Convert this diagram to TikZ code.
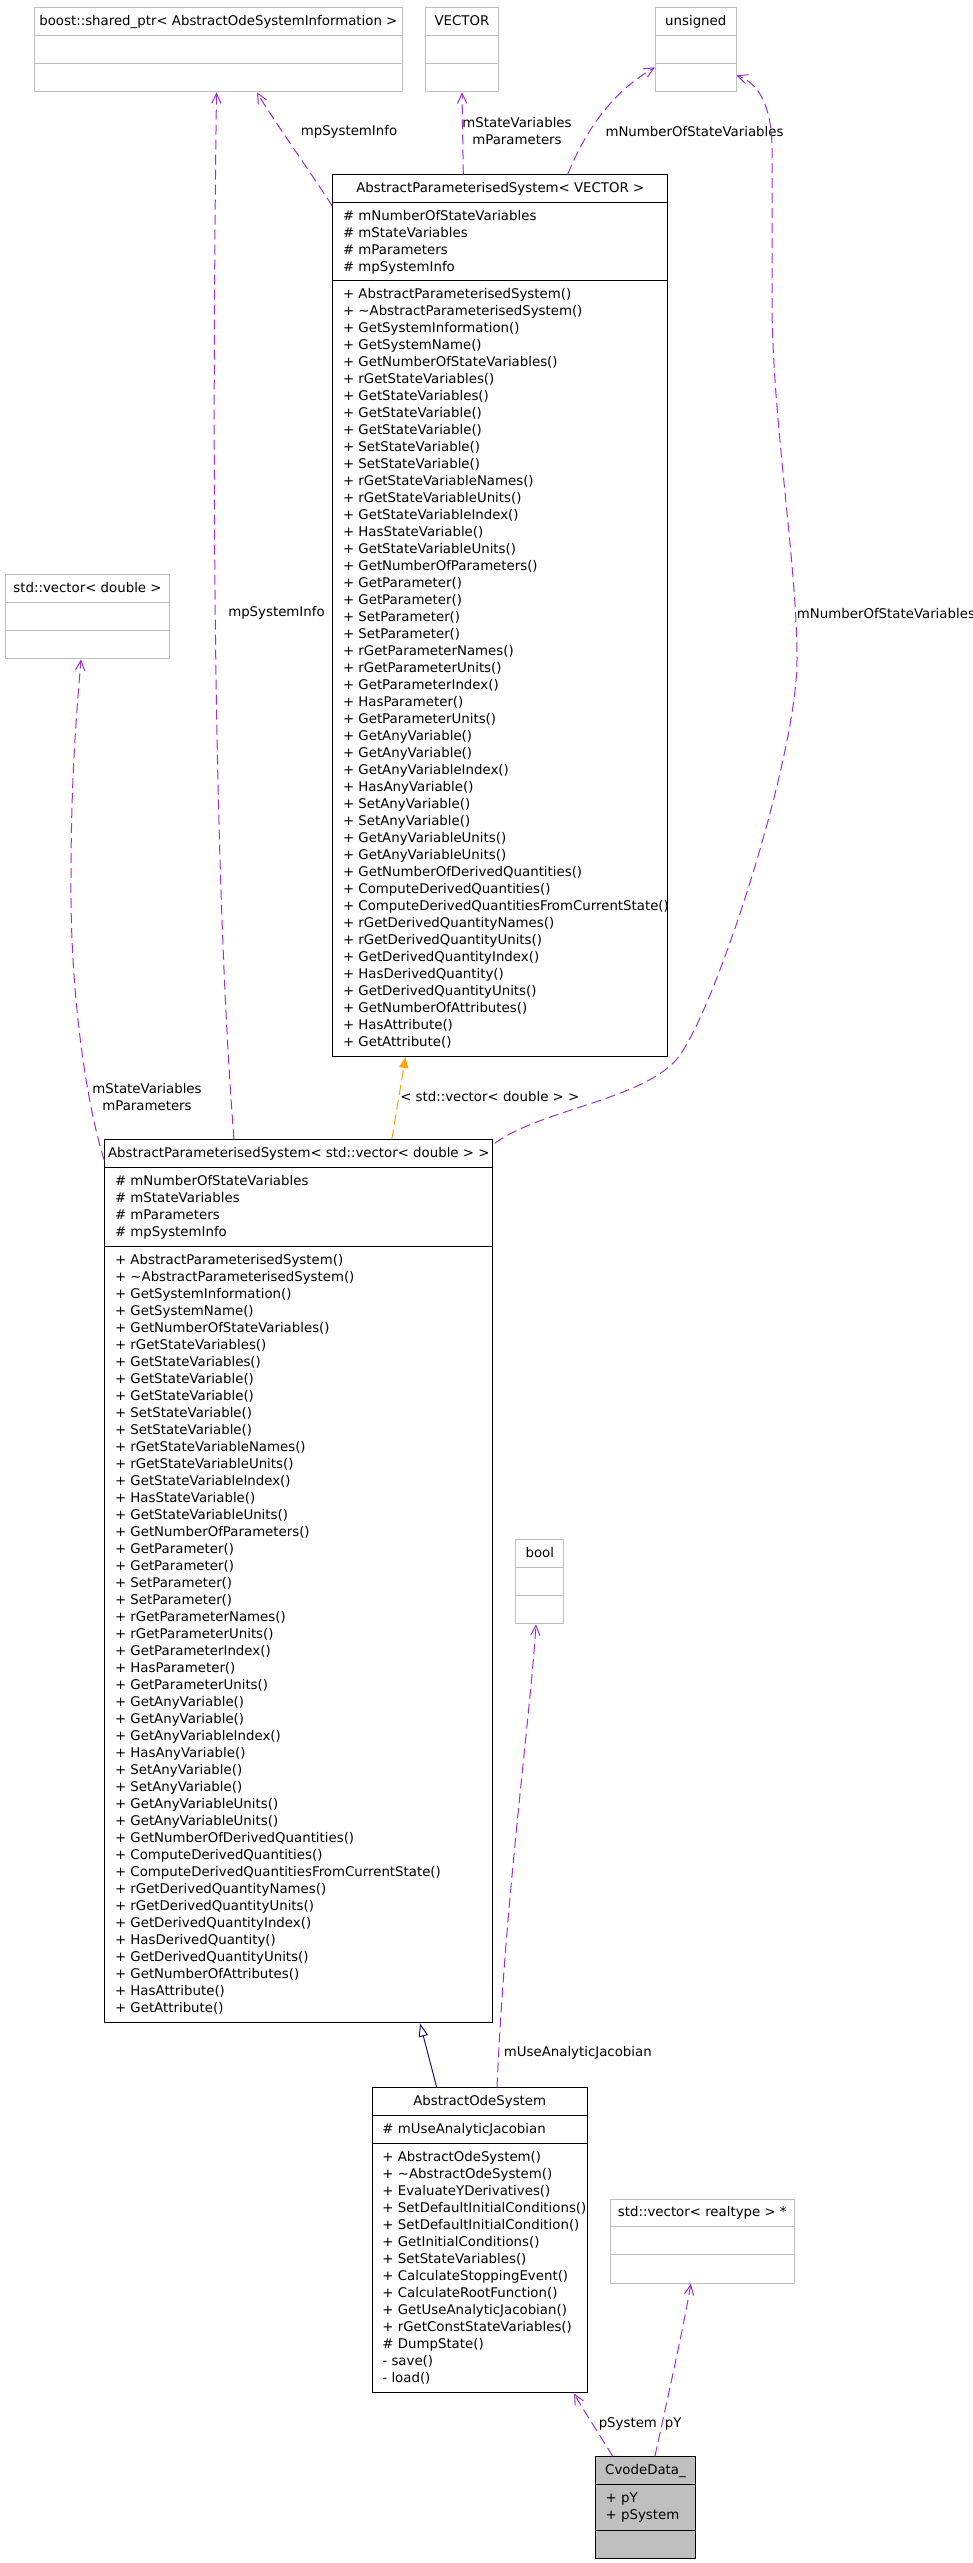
\documentclass[tikz,border=0pt]{standalone}
\usepackage{fontspec}
\setmainfont{DejaVu Sans}
\usetikzlibrary{calc,arrows.meta}
\definecolor{purp}{HTML}{9A32CD}
\definecolor{greyline}{HTML}{BFBFBF}
\definecolor{navyblue}{HTML}{191970}
\definecolor{orng}{HTML}{FFA500}
\tikzset{
  cls/.style={draw=black, line width=0.75pt, fill=white, inner sep=0pt, anchor=north west},
  ext/.style={cls, draw=greyline},
  mem/.style={anchor=base west, inner sep=0pt, font=\fontsize{10}{12.75}\selectfont},
  lbl/.style={inner sep=0pt, font=\fontsize{10}{12.75}\selectfont},
  usage/.style={draw=purp, line width=0.75pt, dash pattern=on 7.5pt off 3.75pt, -{Straight Barb[length=7.5pt,width=7pt]}},
  tmpl/.style={draw=orng, line width=0.75pt, dash pattern=on 7.5pt off 3.75pt, -{Triangle[length=8pt,width=7pt,fill=orng]}},
  inh/.style={draw=navyblue, line width=0.75pt, -{Triangle[open,length=10pt,width=7pt]}},
}
\newcommand\memlist[3]{%
  \foreach \mt [count=\mi from 0] in {#3}{%
    \node[mem] (#1-#2-\mi) at ($(#1.north west)+(10.5,#2+18+17*\mi)$) {\mt};}}
\newcommand\hsep[3]{\draw[line width=0.75pt,#3] ($(#1.north west)+(0,#2)$) -- ($(#1.north east)+(0,#2)$);}
\newcommand\clstitle[2]{\node[mem,anchor=base] (#1-t) at ($(#1.north)+(0,18)$) {#2};}
\begin{document}
\begin{tikzpicture}[x=0.75pt,y=-0.75pt]
\useasboundingbox (0,0) rectangle (973,2563);

% ---- external boxes ----
\node[ext, minimum width=276.2pt, minimum height=63pt] (boost) at (33.7,7.3) {};
\hsep{boost}{28}{greyline}\hsep{boost}{56}{greyline}
\clstitle{boost}{boost::shared\_ptr< AbstractOdeSystemInformation >}

\node[ext, minimum width=54.75pt, minimum height=63pt] (vector) at (425,7.3) {};
\hsep{vector}{28}{greyline}\hsep{vector}{56}{greyline}
\clstitle{vector}{VECTOR}

\node[ext, minimum width=60.4pt, minimum height=63pt] (unsigned) at (655,7.3) {};
\hsep{unsigned}{28}{greyline}\hsep{unsigned}{56}{greyline}
\clstitle{unsigned}{unsigned}

\node[ext, minimum width=122.55pt, minimum height=63pt] (svd) at (5.3,574.3) {};
\hsep{svd}{28}{greyline}\hsep{svd}{56}{greyline}
\clstitle{svd}{std::vector< double >}

\node[ext, minimum width=36pt, minimum height=63pt] (bool) at (515.3,1539.3) {};
\hsep{bool}{28}{greyline}\hsep{bool}{56}{greyline}
\clstitle{bool}{bool}

\node[ext, minimum width=137.85pt, minimum height=63pt] (rt) at (609.9,2198.7) {};
\hsep{rt}{28}{greyline}\hsep{rt}{56}{greyline}
\clstitle{rt}{std::vector< realtype > *}

% ---- AbstractParameterisedSystem< VECTOR > ----
\node[cls, minimum width=251.25pt, minimum height=661.5pt] (apsv) at (332.3,174.3) {};
\hsep{apsv}{28}{black}\hsep{apsv}{106}{black}
\clstitle{apsv}{AbstractParameterisedSystem< VECTOR >}
\memlist{apsv}{28}{\# mNumberOfStateVariables,\# mStateVariables,\# mParameters,\# mpSystemInfo}
\memlist{apsv}{106}{+ AbstractParameterisedSystem(),+ \textasciitilde AbstractParameterisedSystem(),+ GetSystemInformation(),+ GetSystemName(),+ GetNumberOfStateVariables(),+ rGetStateVariables(),+ GetStateVariables(),+ GetStateVariable(),+ GetStateVariable(),+ SetStateVariable(),+ SetStateVariable(),+ rGetStateVariableNames(),+ rGetStateVariableUnits(),+ GetStateVariableIndex(),+ HasStateVariable(),+ GetStateVariableUnits(),+ GetNumberOfParameters(),+ GetParameter(),+ GetParameter(),+ SetParameter(),+ SetParameter(),+ rGetParameterNames(),+ rGetParameterUnits(),+ GetParameterIndex(),+ HasParameter(),+ GetParameterUnits(),+ GetAnyVariable(),+ GetAnyVariable(),+ GetAnyVariableIndex(),+ HasAnyVariable(),+ SetAnyVariable(),+ SetAnyVariable(),+ GetAnyVariableUnits(),+ GetAnyVariableUnits(),+ GetNumberOfDerivedQuantities(),+ ComputeDerivedQuantities(),+ ComputeDerivedQuantitiesFromCurrentState(),+ rGetDerivedQuantityNames(),+ rGetDerivedQuantityUnits(),+ GetDerivedQuantityIndex(),+ HasDerivedQuantity(),+ GetDerivedQuantityUnits(),+ GetNumberOfAttributes(),+ HasAttribute(),+ GetAttribute()}

% ---- AbstractParameterisedSystem< std::vector< double > > ----
\node[cls, minimum width=291pt, minimum height=662.25pt] (apsvd) at (104.3,1139.3) {};
\hsep{apsvd}{28}{black}\hsep{apsvd}{106.7}{black}
\clstitle{apsvd}{AbstractParameterisedSystem< std::vector< double > >}
\memlist{apsvd}{28}{\# mNumberOfStateVariables,\# mStateVariables,\# mParameters,\# mpSystemInfo}
\memlist{apsvd}{106.7}{+ AbstractParameterisedSystem(),+ \textasciitilde AbstractParameterisedSystem(),+ GetSystemInformation(),+ GetSystemName(),+ GetNumberOfStateVariables(),+ rGetStateVariables(),+ GetStateVariables(),+ GetStateVariable(),+ GetStateVariable(),+ SetStateVariable(),+ SetStateVariable(),+ rGetStateVariableNames(),+ rGetStateVariableUnits(),+ GetStateVariableIndex(),+ HasStateVariable(),+ GetStateVariableUnits(),+ GetNumberOfParameters(),+ GetParameter(),+ GetParameter(),+ SetParameter(),+ SetParameter(),+ rGetParameterNames(),+ rGetParameterUnits(),+ GetParameterIndex(),+ HasParameter(),+ GetParameterUnits(),+ GetAnyVariable(),+ GetAnyVariable(),+ GetAnyVariableIndex(),+ HasAnyVariable(),+ SetAnyVariable(),+ SetAnyVariable(),+ GetAnyVariableUnits(),+ GetAnyVariableUnits(),+ GetNumberOfDerivedQuantities(),+ ComputeDerivedQuantities(),+ ComputeDerivedQuantitiesFromCurrentState(),+ rGetDerivedQuantityNames(),+ rGetDerivedQuantityUnits(),+ GetDerivedQuantityIndex(),+ HasDerivedQuantity(),+ GetDerivedQuantityUnits(),+ GetNumberOfAttributes(),+ HasAttribute(),+ GetAttribute()}

% ---- AbstractOdeSystem ----
\node[cls, minimum width=161.25pt, minimum height=228.75pt] (aos) at (371.7,2087.3) {};
\hsep{aos}{28}{black}\hsep{aos}{56}{black}
\clstitle{aos}{AbstractOdeSystem}
\memlist{aos}{28}{\# mUseAnalyticJacobian}
\memlist{aos}{56}{+ AbstractOdeSystem(),+ \textasciitilde AbstractOdeSystem(),+ EvaluateYDerivatives(),+ SetDefaultInitialConditions(),+ SetDefaultInitialCondition(),+ GetInitialConditions(),+ SetStateVariables(),+ CalculateStoppingEvent(),+ CalculateRootFunction(),+ GetUseAnalyticJacobian(),+ rGetConstStateVariables(),\# DumpState(),- save(),- load()}

% ---- CvodeData_ ----
\node[cls, fill=greyline, minimum width=75.15pt, minimum height=76.5pt] (cvode) at (594.9,2456.3) {};
\hsep{cvode}{28}{black}\hsep{cvode}{74}{black}
\clstitle{cvode}{CvodeData\_}
\memlist{cvode}{28}{+ pY,+ pSystem}

% ---- connectors ----
\draw[usage] ($(apsv.north west)+(0,32)$) .. controls +(-10,-17) and +(11,20) .. ($(boost.south west)+(223.3,0)$);
\node[lbl] (l1) at (349,132) {mpSystemInfo};

\draw[usage] ($(apsv.north west)+(131,0)$) -- (vector.south);
\node[lbl, align=center] (l2) at (517,131.5) {mStateVariables\\mParameters};

\draw[usage] ($(apsv.north west)+(235.4,0)$) .. controls +(14,-34) and +(-49,28) .. ($(unsigned.north west)+(0,60)$);
\node[lbl] (l3) at (694.5,132) {mNumberOfStateVariables};

\draw[usage] ($(apsvd.north east)+(1.5,4)$) .. controls (540,1110) and (640,1100) .. (676,1060)
  .. controls (712,1020) and (797,760) .. (797,660)
  .. controls (797,560) and (772,420) .. (772,300)
  -- (772,150) .. controls (772,100) and (755,82) .. ($(unsigned.north east)+(0,68)$);
\node[lbl, anchor=west] (l4) at (796.7,613.3) {mNumberOfStateVariables};

\draw[usage] ($(apsvd.north west)+(129.7,0)$) .. controls (215,900) and (211,500) .. ($(boost.south west)+(182.8,0)$);
\node[lbl, anchor=west] (l5) at (228,613.3) {mpSystemInfo};

\draw[usage] ($(apsvd.north west)+(0,21)$) .. controls (88,1110) and (70,1000) .. (71,880)
  .. controls (71,780) and (76,720) .. ($(svd.south west)+(75.7,0)$);
\node[lbl, align=center] (l6) at (147,1097) {mStateVariables\\mParameters};

\draw[tmpl] ($(apsvd.north west)+(287.5,0)$) -- ($(apsv.south west)+(73.1,0)$);
\node[lbl, anchor=west] (l7) at (400,1096.7) {< std::vector< double > >};

\draw[inh] ($(aos.north west)+(65,0)$) -- ($(apsvd.south west)+(315.7,0)$);

\draw[usage] ($(aos.north west)+(125.3,0)$) .. controls (505,1900) and (530,1720) .. ($(bool.south west)+(20.7,0)$);
\node[lbl, anchor=west] (l9) at (503.6,2052.7) {mUseAnalyticJacobian};

\draw[usage] ($(cvode.north west)+(17.8,0)$) .. controls (603,2440) and (582,2408) .. ($(aos.south west)+(202.3,0)$);
\node[lbl, anchor=west] (l10) at (598.5,2424) {pSystem};

\draw[usage] ($(cvode.north west)+(60,0)$) .. controls (665,2410) and (683,2330) .. ($(rt.south west)+(81,0)$);
\node[lbl, anchor=west] (l11) at (664.7,2424) {pY};
\end{tikzpicture}
\end{document}
